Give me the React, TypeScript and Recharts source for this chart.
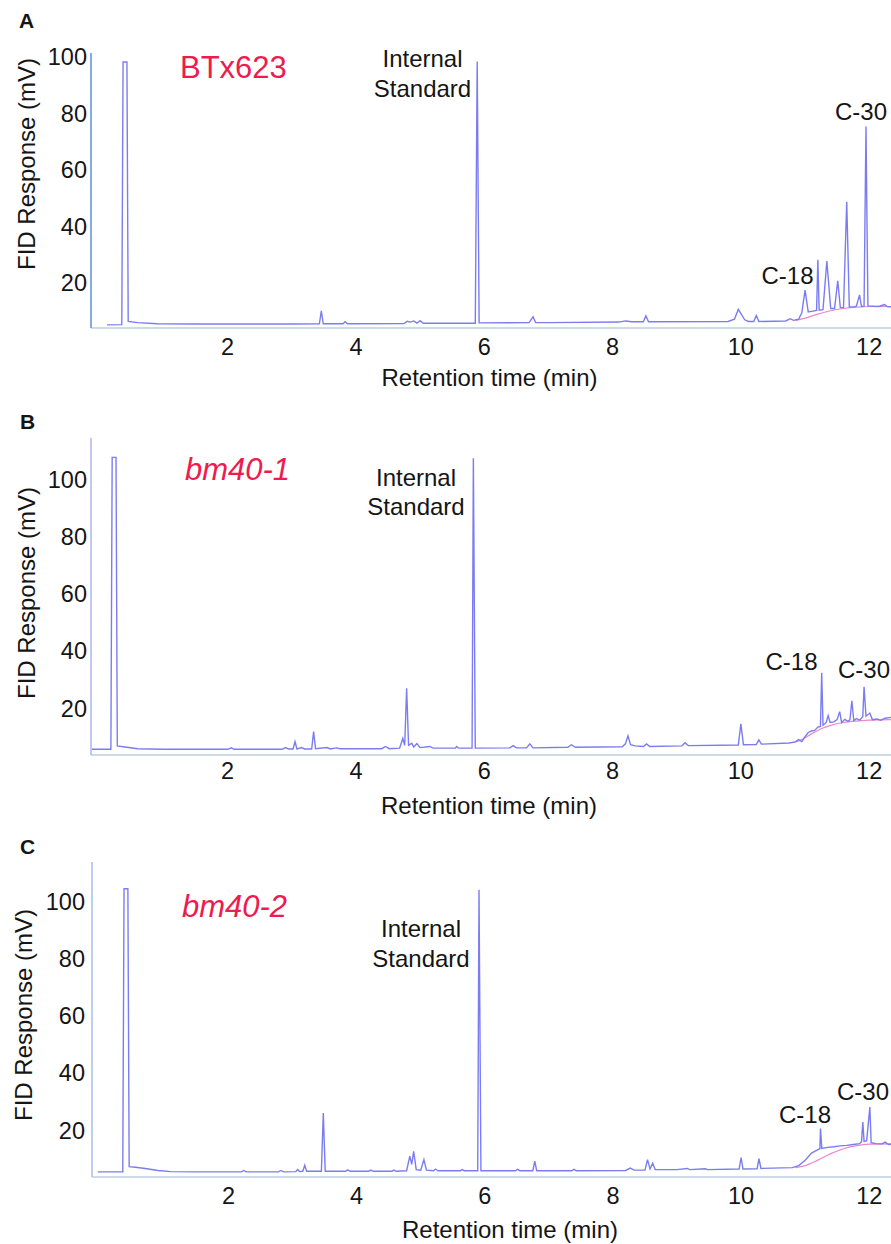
import { LineChart, Line, XAxis, YAxis } from 'recharts';

// retention time (min) / FID response (mV)
const xTicks = [2, 4, 6, 8, 10, 12];
const yTicks = [20, 40, 60, 80, 100];

const traceA: [number, number][] = [
    [0.12, 5.2], [0.35, 5.3], [0.37, 98.2], [0.43, 98.2], [0.45, 6.4], [0.6, 6.0], [0.9, 5.6],
    [1.5, 5.5], [3.0, 5.5], [3.43, 5.6], [3.46, 10.2], [3.49, 5.6], [3.8, 5.6], [3.83, 6.3],
    [3.87, 5.6], [4.75, 5.7], [4.8, 6.5], [4.85, 6.2], [4.9, 6.6], [4.95, 5.8], [5.0, 6.7],
    [5.05, 5.8], [5.86, 5.8], [5.89, 98.4], [5.92, 5.9], [6.7, 6.0], [6.76, 8.1], [6.8, 6.0],
    [7.0, 6.0], [8.1, 6.2], [8.2, 6.6], [8.3, 6.3], [8.48, 6.3], [8.52, 8.4], [8.56, 6.3],
    [9.8, 6.4], [9.9, 7.2], [9.96, 10.7], [10.06, 7.0], [10.12, 6.4], [10.2, 6.4], [10.24, 8.5],
    [10.28, 6.4], [10.7, 6.6], [10.77, 7.4], [10.82, 6.8], [10.9, 7.2], [10.95, 9.5], [11.0, 17.5],
    [11.05, 9.8], [11.1, 10.0], [11.18, 10.3], [11.2, 28.2], [11.22, 10.4], [11.28, 10.6],
    [11.34, 27.8], [11.4, 11.0], [11.46, 11.0], [11.51, 20.8], [11.55, 11.3], [11.6, 11.3],
    [11.65, 48.8], [11.69, 11.6], [11.75, 11.5], [11.8, 11.8], [11.85, 15.8], [11.88, 11.7],
    [11.92, 11.8], [11.95, 75.4], [11.98, 11.9], [12.05, 11.8], [12.15, 11.7], [12.24, 12.4],
    [12.28, 11.7], [12.34, 11.6],
];
const baseA: [number, number][] = [
    [10.85, 6.7], [11.0, 7.6], [11.2, 9.0], [11.4, 10.2], [11.6, 11.0], [11.8, 11.5], [12.0, 11.7], [12.34, 11.7],
];

const traceB: [number, number][] = [
    [-0.12, 5.6], [0.18, 5.6], [0.2, 107.9], [0.26, 107.9], [0.28, 6.8], [0.4, 6.4], [0.6, 5.8],
    [1.0, 5.6], [2.0, 5.6], [2.06, 6.1], [2.1, 5.6], [2.85, 5.6], [2.9, 6.2], [2.95, 5.7],
    [3.02, 5.7], [3.05, 8.3], [3.08, 5.7], [3.15, 6.2], [3.2, 5.7], [3.31, 5.7], [3.34, 11.8],
    [3.37, 5.8], [3.55, 6.2], [3.6, 5.7], [3.7, 6.1], [3.75, 5.8], [4.4, 5.8], [4.46, 6.6],
    [4.52, 5.8], [4.68, 6.0], [4.73, 9.4], [4.76, 7.0], [4.79, 27.0], [4.82, 7.0], [4.87, 7.7],
    [4.9, 6.4], [4.95, 7.6], [5.0, 6.2], [5.15, 6.6], [5.2, 6.0], [5.55, 6.0], [5.57, 6.6],
    [5.6, 6.0], [5.81, 6.0], [5.83, 107.6], [5.86, 6.0], [6.4, 6.1], [6.45, 6.9], [6.5, 6.1],
    [6.66, 6.1], [6.71, 7.5], [6.76, 6.1], [7.3, 6.3], [7.36, 7.2], [7.42, 6.3], [8.15, 6.5],
    [8.2, 7.5], [8.24, 10.3], [8.28, 7.2], [8.35, 6.8], [8.48, 6.6], [8.53, 7.5], [8.58, 6.6],
    [9.08, 6.8], [9.13, 7.9], [9.18, 6.9], [9.96, 7.1], [10.0, 14.5], [10.04, 7.2], [10.24, 7.3],
    [10.28, 8.9], [10.32, 7.4], [10.75, 7.8], [10.85, 8.2], [10.9, 9.0], [10.95, 8.3], [11.0, 10.0],
    [11.05, 11.5], [11.1, 12.0], [11.15, 12.2], [11.2, 13.4], [11.24, 13.6], [11.26, 32.4],
    [11.28, 14.0], [11.33, 15.0], [11.36, 17.4], [11.39, 15.0], [11.45, 15.2], [11.5, 16.0],
    [11.54, 18.8], [11.57, 15.0], [11.62, 16.1], [11.67, 15.4], [11.7, 16.0], [11.73, 22.6],
    [11.76, 15.6], [11.8, 16.4], [11.85, 15.8], [11.9, 17.0], [11.92, 27.5], [11.95, 17.2],
    [12.01, 18.3], [12.05, 16.0], [12.12, 16.2], [12.18, 15.8], [12.25, 16.5], [12.34, 16.8],
];
const baseB: [number, number][] = [
    [10.8, 7.9], [10.95, 9.0], [11.1, 11.0], [11.25, 12.8], [11.4, 14.0], [11.6, 15.0], [11.8, 15.5], [12.0, 15.8], [12.34, 16.0],
];

const traceC: [number, number][] = [
    [-0.04, 5.4], [0.35, 5.4], [0.37, 104.6], [0.43, 104.6], [0.45, 7.2], [0.55, 7.0], [0.7, 6.6],
    [0.9, 5.9], [1.1, 5.5], [1.5, 5.4], [2.2, 5.4], [2.24, 5.9], [2.28, 5.4], [2.78, 5.4],
    [2.82, 5.9], [2.86, 5.4], [3.05, 5.5], [3.08, 6.2], [3.11, 5.5], [3.16, 5.6], [3.19, 7.7],
    [3.22, 5.6], [3.45, 5.6], [3.48, 26.0], [3.51, 5.6], [3.83, 5.6], [3.86, 6.1], [3.9, 5.6],
    [4.19, 5.6], [4.22, 6.0], [4.26, 5.6], [4.55, 5.6], [4.58, 6.0], [4.62, 5.6], [4.78, 5.8],
    [4.83, 10.9], [4.86, 8.0], [4.89, 12.6], [4.93, 6.2], [5.0, 6.0], [5.05, 9.7], [5.09, 6.0],
    [5.2, 5.8], [5.23, 6.4], [5.27, 5.8], [5.62, 5.8], [5.65, 6.2], [5.68, 5.8], [5.89, 5.8],
    [5.91, 104.3], [5.94, 5.8], [6.48, 5.8], [6.51, 6.3], [6.55, 5.8], [6.75, 5.8], [6.78, 9.2],
    [6.81, 5.8], [7.36, 5.8], [7.39, 6.3], [7.43, 5.8], [8.2, 5.9], [8.27, 6.7], [8.33, 6.0],
    [8.5, 6.0], [8.54, 9.7], [8.58, 6.4], [8.62, 8.4], [8.66, 6.2], [9.0, 6.2], [9.16, 6.6],
    [9.2, 6.2], [9.44, 6.5], [9.48, 6.2], [9.97, 6.4], [10.0, 10.4], [10.03, 6.4], [10.25, 6.5],
    [10.28, 10.0], [10.31, 6.6], [10.8, 6.9], [10.9, 7.6], [11.0, 9.5], [11.1, 12.0], [11.2, 13.2],
    [11.23, 13.5], [11.24, 20.6], [11.26, 13.6], [11.35, 14.0], [11.45, 14.2], [11.55, 14.5],
    [11.65, 14.7], [11.75, 15.0], [11.85, 15.3], [11.88, 16.0], [11.9, 22.9], [11.92, 16.0],
    [11.96, 16.3], [12.01, 28.1], [12.03, 15.6], [12.1, 15.3], [12.2, 15.2], [12.25, 15.8],
    [12.3, 15.0], [12.34, 15.1],
];
const baseC: [number, number][] = [
    [10.85, 6.9], [11.0, 7.6], [11.2, 9.5], [11.4, 11.8], [11.6, 13.5], [11.8, 14.6], [12.0, 15.1], [12.34, 15.2],
];

const TRACE = '#7c7cf2';
const BASE = '#ef86c8';
const INK = '#151515';
const RED = '#ee1b4f';
const FONT = '"Liberation Sans", Arial, Helvetica, sans-serif';

const rows = (pts: [number, number][]) => pts.map(([t, v]) => ({ t, v }));

type PanelProps = {
    top: number;
    height: number;
    plotTop: number;
    xAxisHeight: number;
    yAxisWidth: number;
    yDomain: [number, number];
    trace: [number, number][];
    base: [number, number][];
    yAxisColor: string;
    xTickMargin: number;
    yTickMargin: number;
};

function Panel(p: PanelProps) {
    return (
        <div style={{ position: 'absolute', left: 0, top: p.top }}>
            <LineChart
                width={891}
                height={p.height}
                margin={{ top: p.plotTop, right: 0, left: 0, bottom: 0 }}
            >
                <XAxis
                    type="number"
                    dataKey="t"
                    domain={[-0.13, 12.34]}
                    allowDataOverflow
                    ticks={xTicks}
                    interval={0}
                    height={p.xAxisHeight}
                    tickLine={false}
                    tickSize={0}
                    tickMargin={p.xTickMargin}
                    axisLine={{ stroke: '#bccfe2', strokeWidth: 1.5 }}
                    tick={{ fill: INK, fontSize: 23.5, fontFamily: FONT }}
                />
                <YAxis
                    type="number"
                    dataKey="v"
                    domain={p.yDomain}
                    allowDataOverflow
                    ticks={yTicks}
                    interval={0}
                    width={p.yAxisWidth}
                    tickLine={false}
                    tickSize={0}
                    tickMargin={p.yTickMargin}
                    axisLine={{ stroke: p.yAxisColor, strokeWidth: 1.5 }}
                    tick={{ fill: INK, fontSize: 23.5, fontFamily: FONT }}
                />
                <Line
                    data={rows(p.base)}
                    dataKey="v"
                    type="monotone"
                    stroke={BASE}
                    strokeWidth={1.2}
                    dot={false}
                    isAnimationActive={false}
                />
                <Line
                    data={rows(p.trace)}
                    dataKey="v"
                    type="linear"
                    stroke={TRACE}
                    strokeWidth={1.4}
                    dot={false}
                    isAnimationActive={false}
                />
            </LineChart>
        </div>
    );
}

export default function App() {
    const t = { fontFamily: FONT, fill: INK };
    return (
        <div
            style={{
                position: 'fixed',
                left: 0,
                top: 0,
                width: 891,
                height: 1244,
                overflow: 'hidden',
                background: '#fff',
            }}
        >
            <Panel top={0} height={400} plotTop={53} xAxisHeight={72} yAxisWidth={91}
                yDomain={[4.1, 101.4]} trace={traceA} base={baseA} yAxisColor="#5b8fd9"
                xTickMargin={10.6} yTickMargin={4} />
            <Panel top={380} height={440} plotTop={58} xAxisHeight={65} yAxisWidth={91}
                yDomain={[3.6, 114.7]} trace={traceB} base={baseB} yAxisColor="#aeb6ef"
                xTickMargin={7} yTickMargin={4} />
            <Panel top={820} height={424} plotTop={42} xAxisHeight={67} yAxisWidth={92}
                yDomain={[3.6, 114.0]} trace={traceC} base={baseC} yAxisColor="#a6c0e8"
                xTickMargin={10.7} yTickMargin={7} />

            <svg width={891} height={1244} style={{ position: 'absolute', left: 0, top: 0, pointerEvents: 'none' }}>
                {/* panel letters */}
                <text x={19} y={28} fontSize={21} fontWeight="bold" {...t}>A</text>
                <text x={20} y={428.5} fontSize={21} fontWeight="bold" {...t}>B</text>
                <text x={20} y={853.5} fontSize={21} fontWeight="bold" {...t}>C</text>

                {/* sample names */}
                <text x={180} y={77.8} fontSize={31} fontFamily={FONT} fill={RED}>BTx623</text>
                <text x={185} y={480} fontSize={31} fontStyle="italic" fontFamily={FONT} fill={RED}>bm40-1</text>
                <text x={182} y={917} fontSize={31} fontStyle="italic" fontFamily={FONT} fill={RED}>bm40-2</text>

                {/* peak annotations */}
                <text x={422.5} y={66.5} fontSize={24} textAnchor="middle" {...t}>Internal</text>
                <text x={422.5} y={97} fontSize={24} textAnchor="middle" {...t}>Standard</text>
                <text x={787.5} y={283.5} fontSize={24} textAnchor="middle" {...t}>C-18</text>
                <text x={861} y={120} fontSize={24} textAnchor="middle" {...t}>C-30</text>

                <text x={416} y={486} fontSize={24} textAnchor="middle" {...t}>Internal</text>
                <text x={416} y={515} fontSize={24} textAnchor="middle" {...t}>Standard</text>
                <text x={791.5} y={670} fontSize={24} textAnchor="middle" {...t}>C-18</text>
                <text x={838} y={678} fontSize={24} {...t}>C-30</text>

                <text x={421} y={937} fontSize={24} textAnchor="middle" {...t}>Internal</text>
                <text x={421} y={967} fontSize={24} textAnchor="middle" {...t}>Standard</text>
                <text x={805} y={1123} fontSize={24} textAnchor="middle" {...t}>C-18</text>
                <text x={837} y={1100} fontSize={24} {...t}>C-30</text>

                {/* axis titles */}
                <text x={489.5} y={385.5} fontSize={24} textAnchor="middle" {...t}>Retention time (min)</text>
                <text x={489} y={814} fontSize={24} textAnchor="middle" {...t}>Retention time (min)</text>
                <text x={510} y={1238} fontSize={24} textAnchor="middle" {...t}>Retention time (min)</text>

                <text x={35} y={164} fontSize={24} textAnchor="middle" transform="rotate(-90 35 164)" {...t}>FID Response (mV)</text>
                <text x={35} y={593} fontSize={24} textAnchor="middle" transform="rotate(-90 35 593)" {...t}>FID Response (mV)</text>
                <text x={32} y={1015} fontSize={24} textAnchor="middle" transform="rotate(-90 32 1015)" {...t}>FID Response (mV)</text>
            </svg>
        </div>
    );
}
